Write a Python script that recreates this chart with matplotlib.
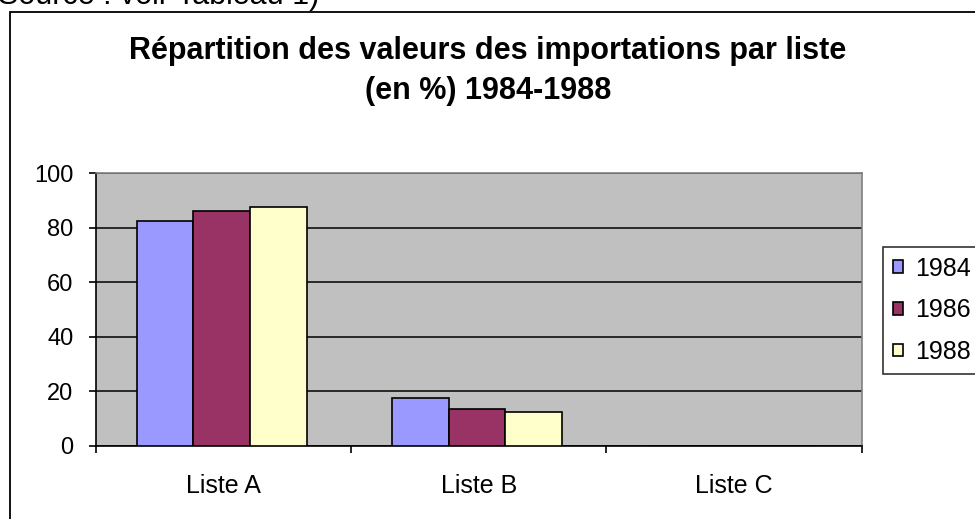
import numpy as np
import matplotlib.pyplot as plt
from matplotlib.patches import Rectangle

plt.rcParams['font.family'] = ['Liberation Sans', 'DejaVu Sans']

# données
listes = ['Liste A', 'Liste B', 'Liste C']
annees = ['1984', '1986', '1988']
v1984 = [82.5, 17.5, 0]
v1986 = [86.1, 13.7, 0]
v1988 = [87.5, 12.3, 0]
yticks = [0, 20, 40, 60, 80, 100]

couleurs = ['#9999FF', '#993366', '#FFFFCC']

fig = plt.figure(figsize=(9.75, 5.19), dpi=100)
ax = fig.add_axes([95.7/975, 1-446/519, (861.7-95.7)/975, (446-173)/519])

x = np.arange(len(listes))
w = 0.222
for i, vals in enumerate([v1984, v1986, v1988]):
    ax.bar(x + (i-1)*w - 0.007, vals, w, color=couleurs[i], edgecolor='black',
           linewidth=1.2, label=annees[i], zorder=3)

ax.set_facecolor('#C0C0C0')
ax.set_xlim(-0.5, 2.5)
ax.set_ylim(0, 100)
ax.set_yticks(yticks)
ax.yaxis.grid(True, color='black', linewidth=1.1, zorder=1)
ax.set_axisbelow(True)

ax.set_xticks(x)
ax.set_xticklabels(listes)
ax.set_xticks([-0.5, 0.5, 1.5, 2.5], minor=True)
ax.tick_params(axis='x', which='major', length=0, pad=20, labelsize=18)
ax.tick_params(axis='x', which='minor', length=5, width=1.2, direction='out')
ax.tick_params(axis='y', length=5, width=1.2, pad=11, labelsize=17)

for s in ['left', 'bottom']:
    ax.spines[s].set_color('black')
    ax.spines[s].set_linewidth(1.2)
for s in ['top', 'right']:
    ax.spines[s].set_color('#808080')
    ax.spines[s].set_linewidth(1.2)

fig.text(488/975, 1-36/519,
         'Répartition des valeurs des importations par liste\n(en %) 1984-1988',
         ha='center', va='top', fontsize=22, fontweight='bold', linespacing=1.42)

fig.text(-0.002, 1-4/519, 'Source : voir Tableau 1)', fontsize=22, va='baseline')

# cadre du graphique
fig.patches.append(Rectangle((10/975, -0.2), 2, 1.2 - 12/519, transform=fig.transFigure,
                             fill=False, edgecolor='black', linewidth=1.3))

leg = fig.legend(loc='upper left', bbox_to_anchor=(883/975, 1-247/519), fontsize=18,
                 frameon=True, fancybox=False, shadow=False, borderaxespad=0,
                 handlelength=0.4, handleheight=0.4, handletextpad=0.52,
                 labelspacing=0.71, borderpad=0.38)
leg.get_frame().set_edgecolor('black')
leg.get_frame().set_linewidth(1.2)

fig.savefig('out.png', dpi=100)
